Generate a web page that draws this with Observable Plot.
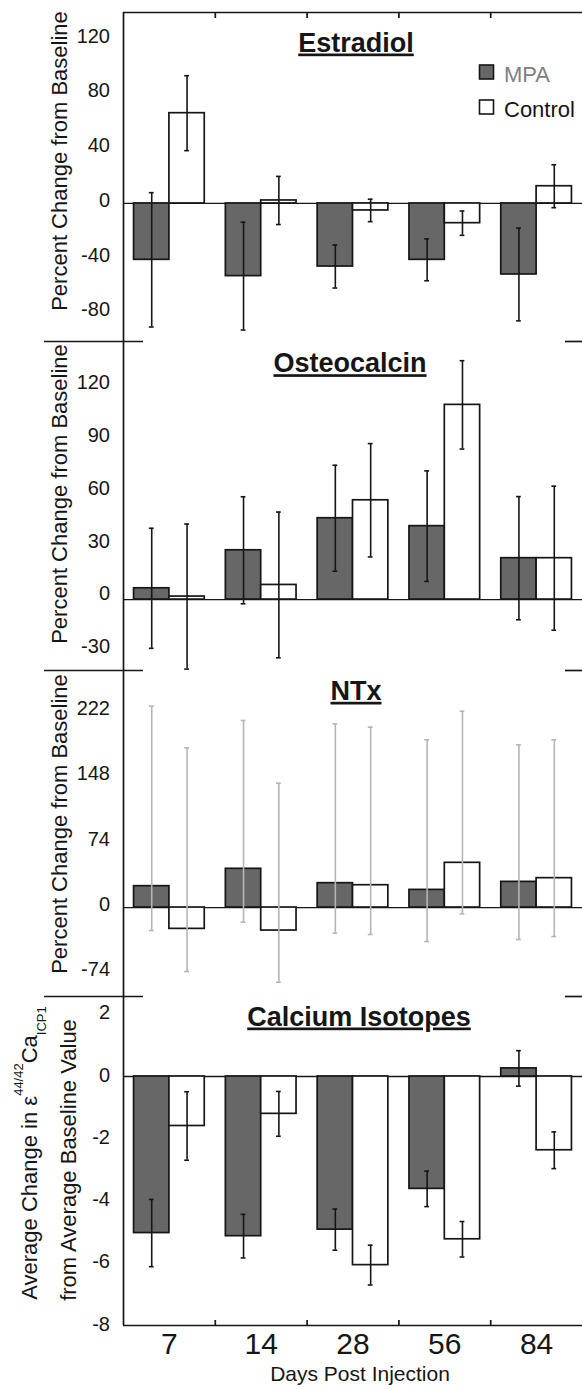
<!DOCTYPE html>
<html>
<head>
<meta charset="utf-8">
<script src="https://cdn.jsdelivr.net/npm/d3@7"></script>
<script src="https://cdn.jsdelivr.net/npm/@observablehq/plot@0.6"></script>
<style>
  body { margin: 0; background: #fff; }
  #chart { position: relative; width: 582px; height: 1389px; font-family: "Liberation Sans", Arial, sans-serif; }
  .panel { position: absolute; left: 0; width: 582px; overflow: visible; }
</style>
</head>
<body>
<div id="chart"></div>
<script>
// ---------------- data ----------------
const days = ["7", "14", "28", "56", "84"];
const series = ["MPA", "Control"];

// Estradiol (% change from baseline), mean ± error
const estradiolMPA = [-41.2, -53.1, -46.1, -41.2, -51.9];
const estradiolMPAErr = [49.1, 39.4, 15.7, 15.3, 33.9];
const estradiolControl = [66.0, 2.2, -5.1, -14.4, 12.6];
const estradiolControlErr = [27.4, 17.6, 8.2, 8.9, 15.7];
const estradiolTicks = [-80, -40, 0, 40, 80, 120];

// Osteocalcin
const osteoMPA = [6.4, 28.0, 46.2, 41.7, 23.5];
const osteoMPAErr = [34.1, 30.4, 30.1, 31.4, 35.0];
const osteoControl = [1.7, 8.3, 56.4, 110.6, 23.5];
const osteoControlErr = [41.2, 41.4, 32.2, 25.1, 40.9];
const osteoTicks = [-30, 0, 30, 60, 90, 120];

// NTx (asymmetric error bars: low / high ends)
const ntxMPA = [24.2, 43.9, 27.6, 20.0, 29.1];
const ntxMPALow = [-26.1, -16.6, -29.1, -38.6, -36.3];
const ntxMPAHigh = [228.3, 212.1, 208.3, 190.2, 184.5];
const ntxControl = [-24.2, -26.1, 25.3, 50.7, 33.3];
const ntxControlLow = [-72.6, -84.7, -30.6, -7.2, -32.9];
const ntxControlHigh = [181.1, 141.0, 204.5, 222.6, 190.2];
const ntxTicks = [-74, 0, 74, 148, 222];

// Calcium isotopes
const caMPA = [-5.03, -5.13, -4.92, -3.61, 0.26];
const caMPAErr = [1.08, 0.70, 0.66, 0.57, 0.57];
const caControl = [-1.59, -1.20, -6.06, -5.23, -2.37];
const caControlErr = [1.10, 0.72, 0.64, 0.57, 0.59];
const caTicks = [-8, -6, -4, -2, 0, 2];

// ---------------- helpers ----------------
function rowsSym(mean, err, s) {
  return mean.map((v, i) => ({i, day: days[i], series: s, v, lo: v - err[i], hi: v + err[i]}));
}
function rowsAsym(mean, lo, hi, s) {
  return mean.map((v, i) => ({i, day: days[i], series: s, v, lo: lo[i], hi: hi[i]}));
}

const INK = "#161616";
const MPA_FILL = "#676767";
const FONT = "'Liberation Sans', Arial, sans-serif";
// position of each bar inside its day slot (slot = 1 unit on x)
const slot = {MPA: [0.115, 0.5], Control: [0.5, 0.885]};
const cap = 0.026;

const panels = [
  {
    title: "Estradiol", top: 0, height: 341, marginTop: 12, marginBottom: 0,
    domain: [-100.9, 139.6], ticks: estradiolTicks, labelDy: -3,
    titleDx: 3, titleDy: 39,
    mpa: rowsSym(estradiolMPA, estradiolMPAErr, "MPA"),
    ctl: rowsSym(estradiolControl, estradiolControlErr, "Control"),
    errColor: INK, yTitleCy: 161, first: true
  },
  {
    title: "Osteocalcin", top: 341, height: 329, marginTop: 0, marginBottom: 0,
    domain: [-40.3, 146.6], ticks: osteoTicks, labelDy: -5.5,
    titleDx: -3, titleDy: 30.7,
    mpa: rowsSym(osteoMPA, osteoMPAErr, "MPA"),
    ctl: rowsSym(osteoControl, osteoControlErr, "Control"),
    errColor: INK, yTitleCy: 153
  },
  {
    title: "NTx", top: 670, height: 326, marginTop: 0, marginBottom: 0,
    domain: [-100.9, 268.8], ticks: ntxTicks, labelDy: -3,
    titleDx: 3, titleDy: 29.3,
    mpa: rowsAsym(ntxMPA, ntxMPALow, ntxMPAHigh, "MPA"),
    ctl: rowsAsym(ntxControl, ntxControlLow, ntxControlHigh, "Control"),
    errColor: "#b5b5b5", yTitleCy: 154
  },
  {
    title: "Calcium Isotopes", top: 996, height: 393, marginTop: 0, marginBottom: 64,
    domain: [-8, 2.57], ticks: caTicks, labelDy: -1.3,
    titleDx: 6, titleDy: 29,
    mpa: rowsSym(caMPA, caMPAErr, "MPA"),
    ctl: rowsSym(caControl, caControlErr, "Control"),
    errColor: INK, last: true
  }
];

const chart = document.getElementById("chart");

panels.forEach(p => {
  const frameH = p.height - p.marginTop - p.marginBottom;
  const mid = s => (slot[s][0] + slot[s][1]) / 2;
  const all = [...p.mpa, ...p.ctl];
  const marks = [
    Plot.ruleY([0], {stroke: INK, strokeWidth: 1.3}),
    Plot.rectY(p.mpa, {x1: d => d.i + slot.MPA[0], x2: d => d.i + slot.MPA[1], y1: 0, y2: "v",
      fill: MPA_FILL, stroke: INK, strokeWidth: 1.7}),
    Plot.rectY(p.ctl, {x1: d => d.i + slot.Control[0], x2: d => d.i + slot.Control[1], y1: 0, y2: "v",
      fill: "white", stroke: INK, strokeWidth: 1.7}),
    Plot.ruleX(all, {x: d => d.i + mid(d.series), y1: "lo", y2: "hi", stroke: p.errColor, strokeWidth: 1.6}),
    Plot.ruleY(all, {y: "lo", x1: d => d.i + mid(d.series) - cap, x2: d => d.i + mid(d.series) + cap, stroke: p.errColor, strokeWidth: 1.6}),
    Plot.ruleY(all, {y: "hi", x1: d => d.i + mid(d.series) - cap, x2: d => d.i + mid(d.series) + cap, stroke: p.errColor, strokeWidth: 1.6}),
    // left axis line
    Plot.ruleX([0], {stroke: INK, strokeWidth: 1.7}),
    // tick labels
    Plot.text(p.ticks, {y: d => d, text: d => String(d), frameAnchor: "left", textAnchor: "end",
      dx: -13.5, dy: p.labelDy, fontSize: 20, fill: INK}),
    // panel title
    Plot.text([p.title], {frameAnchor: "top", lineAnchor: "bottom", dx: p.titleDx, dy: p.titleDy,
      fontSize: 27, fontWeight: "bold", fill: INK, ariaLabel: "panel-title"})
  ];
  if (p.first) {
    marks.push(Plot.ruleY([p.domain[1]], {stroke: INK, strokeWidth: 1.7}));
    marks.push(Plot.tickX([1, 2, 3, 4], {x: d => d, insetBottom: frameH - 6, stroke: INK, strokeWidth: 1.7}));
  } else {
    // short boundary stubs between panels
    marks.push(Plot.ruleY([p.domain[1]], {x1: -0.86, x2: 0.218, stroke: INK, strokeWidth: 1.7}));
    marks.push(Plot.ruleY([p.domain[1]], {x1: 4.815, x2: 5, stroke: INK, strokeWidth: 1.7}));
  }
  if (p.last) {
    marks.push(Plot.ruleY([p.domain[0]], {stroke: INK, strokeWidth: 1.7}));
    marks.push(Plot.tickX([1, 2, 3, 4], {x: d => d, insetTop: frameH - 5, stroke: INK, strokeWidth: 1.7}));
    marks.push(Plot.text(days, {x: (d, i) => i + 0.5, text: d => d, frameAnchor: "bottom", lineAnchor: "bottom",
      dy: 28.3, fontSize: 30, fill: INK}));
    marks.push(Plot.text(["Days Post Injection"], {frameAnchor: "bottom", lineAnchor: "bottom",
      dx: 7, dy: 55.7, fontSize: 21, fill: INK}));
  }

  const svg = Plot.plot({
    width: 582,
    height: p.height,
    marginLeft: 123,
    marginRight: 0,
    marginTop: p.marginTop,
    marginBottom: p.marginBottom,
    x: {domain: [0, 5], axis: null},
    y: {domain: p.domain, axis: null},
    style: {background: "transparent", overflow: "visible", fontFamily: FONT},
    marks
  });
  svg.style.overflow = "visible";
  svg.style.background = "transparent";
  svg.style.fontFamily = FONT;

  const s = d3.select(svg);

  // underline the panel titles
  s.selectAll("text")
    .filter(function () { return this.textContent === p.title; })
    .attr("text-decoration", "underline")
    .style("text-decoration", "underline");

  // y-axis titles
  if (!p.last) {
    s.append("text")
      .attr("transform", `translate(67,${p.yTitleCy}) rotate(-90)`)
      .attr("text-anchor", "middle")
      .attr("font-size", 22)
      .attr("fill", INK)
      .text("Percent Change from Baseline");
  } else {
    const t1 = s.append("text")
      .attr("transform", "translate(37,157) rotate(-90)")
      .attr("text-anchor", "middle")
      .attr("font-size", 22)
      .attr("fill", INK);
    t1.append("tspan").text("Average Change in ε");
    t1.append("tspan").attr("font-size", 13).attr("dy", -14).text("44/42");
    t1.append("tspan").attr("dy", 14).text("Ca");
    t1.append("tspan").attr("font-size", 13).attr("dy", 9).text("ICP1");
    s.append("text")
      .attr("transform", "translate(76,164) rotate(-90)")
      .attr("text-anchor", "middle")
      .attr("font-size", 22)
      .attr("fill", INK)
      .text("from Average Baseline Value");
  }

  // legend (inside first panel)
  if (p.first) {
    const lg = s.append("g").attr("text-anchor", "start");
    series.forEach((name, k) => {
      lg.append("rect")
        .attr("x", 479.5).attr("y", 65 + k * 35)
        .attr("width", 14).attr("height", 14)
        .attr("fill", name === "MPA" ? MPA_FILL : "white")
        .attr("stroke", INK).attr("stroke-width", 1.6);
      lg.append("text")
        .attr("x", 504).attr("y", 81.5 + k * 35)
        .attr("text-anchor", "start")
        .attr("font-size", 22)
        .attr("fill", name === "MPA" ? "#808080" : INK)
        .text(name);
    });
  }

  const wrap = document.createElement("div");
  wrap.className = "panel";
  wrap.style.top = p.top + "px";
  wrap.style.height = p.height + "px";
  wrap.appendChild(svg);
  chart.appendChild(wrap);
});
</script>
</body>
</html>
